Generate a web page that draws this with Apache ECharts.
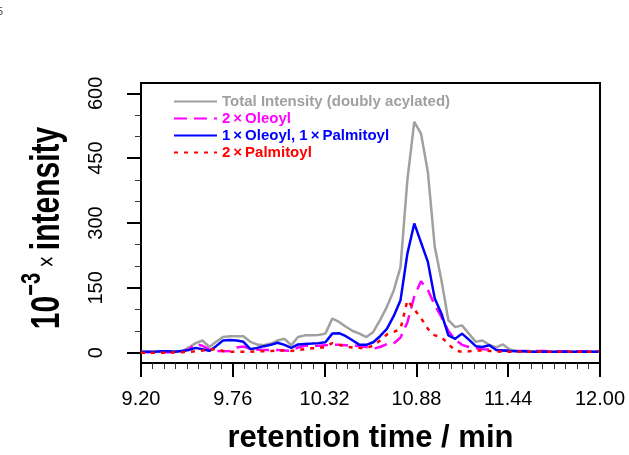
<!DOCTYPE html>
<html><head><meta charset="utf-8">
<script src="https://cdn.jsdelivr.net/npm/echarts@6/dist/echarts.min.js"></script>
<style>html,body{margin:0;padding:0;background:#fff}#c{width:629px;height:455px}</style>
</head><body><div id="c"></div>
<script>
// retention time (min), one scan every 2.5 s
const rtTime = [9.200,9.242,9.283,9.325,9.367,9.408,9.450,9.492,9.533,9.575,9.617,9.658,9.700,9.742,9.783,9.825,9.867,9.908,9.950,9.992,10.033,10.075,10.117,10.158,10.200,10.242,10.283,10.325,10.367,10.408,10.450,10.492,10.533,10.575,10.617,10.658,10.700,10.742,10.783,10.825,10.867,10.908,10.950,10.992,11.033,11.075,11.117,11.158,11.200,11.242,11.283,11.325,11.367,11.408,11.450,11.492,11.533,11.575,11.617,11.658,11.700,11.742,11.783,11.825,11.867,11.908,11.950,11.992];
const totalIntensity = [2,2,2,2,2,3,3,12,22,28,13,25,36,38,38,38,25,19,17,21,28,32,17,36,40,40,41,44,79,71,60,50,44,36,48,75,106,144,198,400,534,507,418,245,167,75,59,63,44,25,28,18,12,19,7,4,3,3,2,2,2,2,2,2,2,2,2,2];
const oleoylOleoyl = [1,1,1,1,1,1,2,8,20,16,7,4,3,4,12,14,9,7,6,6,6,5,4,12,16,16,16,17,18,18,17,16,15,13,9,13,20,21,35,70,130,165,145,110,82,50,30,18,13,10,8,7,6,5,5,4,4,4,4,4,3,3,3,3,3,3,3,3];
const oleoylPalmitoyl = [2,2,2,3,3,2,4,6,11,8,4,15,28,29,28,25,8,11,15,18,23,18,11,19,20,21,22,24,44,45,38,28,18,18,24,38,55,85,121,229,299,255,210,125,90,40,32,44,30,15,13,17,6,5,4,3,3,2,2,2,2,2,2,2,2,2,2,2];
const palmitoylPalmitoyl = [0,0,0,0,0,1,1,2,3,5,6,9,4,2,2,2,2,3,3,4,5,5,4,6,8,10,11,13,22,18,14,12,11,11,16,28,42,48,55,121,100,80,55,40,36,20,5,2,3,5,5,4,3,2,2,2,2,2,2,2,2,2,2,2,2,2,2,2];
const seriesNames = ['Total Intensity (doubly acylated)','2\u2009\u00d7\u2009Oleoyl','1\u2009\u00d7\u2009Oleoyl, 1\u2009\u00d7\u2009Palmitoyl','2\u2009\u00d7\u2009Palmitoyl'];
const xMajorTicks = [9.20,9.76,10.32,10.88,11.44,12.00];
const xMinorTicks = [9.27,9.34,9.41,9.48,9.55,9.62,9.69,9.83,9.90,9.97,10.04,10.11,10.18,10.25,10.39,10.46,10.53,10.60,10.67,10.74,10.81,10.95,11.02,11.09,11.16,11.23,11.30,11.37,11.51,11.58,11.65,11.72,11.79,11.86,11.93];
const yMajorTicks = [0,150,300,450,600];
const yMinorTicks = [50,100,200,250,350,400,500,550];
const xTitle = 'retention time / min';
const yTitle = '{n|10}{s|\u22123}{x| \u00d7 }{n|intensity}';

const FONT = '"Liberation Sans", Arial, Helvetica, sans-serif';
const colors = ['#a0a0a0','#ff00ff','#0000ff','#ff0000'];
const dashes = ['solid',[13,7],'solid',[4,6]];
const valueSets = [totalIntensity, oleoylOleoyl, oleoylPalmitoyl, palmitoylPalmitoyl];
const pair = arr => rtTime.map((t,i)=>[t, arr[i]]);

const chart = echarts.init(document.getElementById('c'), null, {renderer:'canvas'});
chart.setOption({
  animation:false,
  backgroundColor:'#ffffff',
  textStyle:{fontFamily:FONT},
  grid:{left:141,right:29,top:83,bottom:92,show:true,borderColor:'#000',borderWidth:2,backgroundColor:'transparent',
        containLabel:false,outerBoundsMode:'none'},
  legend:{
    orient:'vertical',left:173,top:94,padding:0,itemWidth:43,itemHeight:14,itemGap:2,
    itemStyle:{opacity:0},
    textStyle:{fontSize:15,fontWeight:'bold',fontFamily:FONT},
    data:seriesNames.map((n,i)=>({name:n,textStyle:{color:colors[i]}}))
  },
  xAxis:[{
    type:'value',min:9.2,max:12.0,position:'bottom',
    axisLine:{show:true,onZero:false,lineStyle:{color:'#000',width:2}},
    axisTick:{show:true,inside:false,length:14,lineStyle:{color:'#000',width:2},customValues:xMajorTicks},
    axisLabel:{show:true,customValues:xMajorTicks,formatter:v=>v.toFixed(2),fontSize:20,color:'#000',margin:26,fontFamily:FONT},
    splitLine:{show:false},
    name:xTitle,nameLocation:'middle',nameGap:60,
    nameTextStyle:{fontSize:31,fontWeight:'bold',color:'#000',fontFamily:FONT}
  },{
    type:'value',min:9.2,max:12.0,position:'bottom',
    axisLine:{show:false,onZero:false},
    axisTick:{show:true,inside:false,length:6,lineStyle:{color:'#333',width:1},customValues:xMinorTicks},
    axisLabel:{show:false},splitLine:{show:false}
  }],
  yAxis:[{
    type:'value',min:-24,max:624,position:'left',
    axisLine:{show:true,onZero:false,lineStyle:{color:'#000',width:2}},
    axisTick:{show:true,inside:false,length:14,lineStyle:{color:'#000',width:2},customValues:yMajorTicks},
    axisLabel:{show:true,customValues:yMajorTicks,rotate:90,fontSize:20,color:'#000',margin:35,fontFamily:FONT},
    splitLine:{show:false}
  },{
    type:'value',min:-24,max:624,position:'left',
    axisLine:{show:false,onZero:false},
    axisTick:{show:true,inside:false,length:6,lineStyle:{color:'#333',width:1},customValues:yMinorTicks},
    axisLabel:{show:false},splitLine:{show:false}
  }],
  graphic:[
    {type:'text',left:-3,top:6,style:{text:'5',fontSize:11,fill:'#444',fontFamily:FONT}},
    {type:'text',x:48,y:228,rotation:Math.PI/2,scaleY:1.38,
     style:{text:yTitle,align:'center',verticalAlign:'middle',fill:'#000',
       rich:{
         n:{fontSize:30,fontWeight:'bold',fill:'#000',fontFamily:FONT},
         s:{fontSize:20,fontWeight:'bold',fill:'#000',fontFamily:FONT,verticalAlign:'top',padding:[0,0,22,0]},
         x:{fontSize:20,fill:'#000',fontFamily:FONT}
       }}}
  ],
  series:valueSets.map((arr,i)=>({
    name:seriesNames[i],type:'line',data:pair(arr),xAxisIndex:0,yAxisIndex:0,
    symbol:'none',showSymbol:false,smooth:false,
    lineStyle:{color:colors[i],width:2.5,type:dashes[i]},
    itemStyle:{color:colors[i]},
    z:[1,2,3,4][i]
  }))
});
</script></body></html>
